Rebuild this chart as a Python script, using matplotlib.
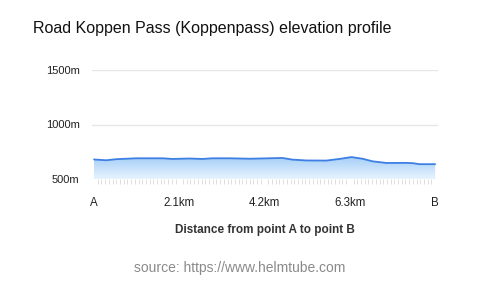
import matplotlib.pyplot as plt
import numpy as np
from matplotlib.path import Path
from matplotlib.patches import PathPatch

plt.rcParams['font.family'] = ['Liberation Sans', 'DejaVu Sans']

# distance along the road (km) and elevation (m)
distance_km = [0.0, 0.30, 0.55, 1.04, 1.69, 1.93, 2.35, 2.67, 2.92, 3.34, 3.83,
               4.08, 4.64, 4.88, 5.23, 5.72, 6.04, 6.34, 6.61, 6.86, 7.20,
               7.70, 7.85, 8.02, 8.40]
elevation_m = [679, 672, 682, 690, 690, 684, 688, 684, 690, 690, 686,
               688, 693, 678, 670, 669, 684, 701, 686, 662, 647,
               648, 645, 636, 636]

x_ticks = [0.0, 2.1, 4.2, 6.3, 8.4]
x_labels = ['A', '2.1km', '4.2km', '6.3km', 'B']
y_ticks = [500, 1000, 1500]
y_labels = ['500m', '1000m', '1500m']

LINE_COLOR = '#3d7fe3'
TEXT_COLOR = '#222222'

fig = plt.figure(figsize=(4.8, 2.87), dpi=100)
ax = fig.add_axes([92 / 480, 1 - 179 / 287, 346 / 480, 109 / 287])

x = np.array(distance_km)
y = np.array(elevation_m)

# gradient fill under the profile
grad = np.linspace(0, 1, 256).reshape(-1, 1)
cmap = plt.matplotlib.colors.LinearSegmentedColormap.from_list(
    'fill', ['#e8f4fe', '#a6cff8'])
img = ax.imshow(grad, aspect='auto', cmap=cmap, origin='lower',
                extent=[x[0], x[-1], 500, y.max()], zorder=1)
verts = [(x[0], 500)] + list(zip(x, y)) + [(x[-1], 500), (x[0], 500)]
clip = PathPatch(Path(verts), facecolor='none', edgecolor='none')
ax.add_patch(clip)
img.set_clip_path(clip)

ax.plot(x, y, color=LINE_COLOR, lw=1.3, zorder=3, solid_capstyle='round',
        solid_joinstyle='round')

ax.set_xlim(-0.05, 8.47)
ax.set_ylim(500, 1500)

ax.set_yticks(y_ticks)
ax.set_yticklabels(y_labels)
ax.set_xticks(x_ticks)
ax.set_xticklabels(x_labels)
ax.set_xticks(np.linspace(0, 8.4, 93), minor=True)

ax.grid(axis='y', color='#e6e6e6', lw=1)
ax.set_axisbelow(True)
for s in ax.spines.values():
    s.set_visible(False)

ax.tick_params(axis='y', length=0, pad=9, labelsize=8, labelcolor=TEXT_COLOR)
ax.tick_params(axis='x', which='major', length=0, pad=13, labelsize=8.3,
               labelcolor=TEXT_COLOR)
ax.tick_params(axis='x', which='minor', length=3.5, width=0.6, color='#dadada',
               direction='out')

ax.set_xlabel('Distance from point A to point B', fontsize=8.5, fontweight='bold',
              color='#333333', labelpad=11)

fig.text(33 / 480, 1 - 28 / 287, 'Road Koppen Pass (Koppenpass) elevation profile',
         fontsize=11.5, color='#111111', va='center', ha='left')
fig.text(240 / 480, 1 - 268 / 287, 'source: https://www.helmtube.com',
         fontsize=10, color='#8a8a8a', va='center', ha='center')

fig.savefig('out.png', dpi=100)
